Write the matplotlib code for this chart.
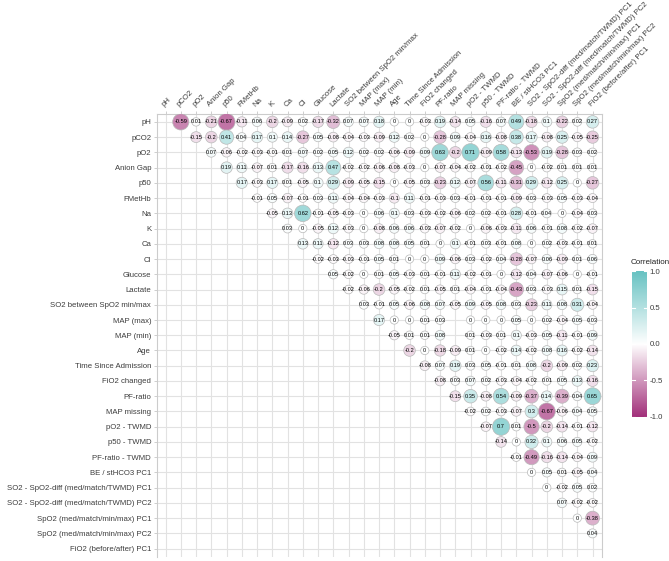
import numpy as np
import matplotlib.pyplot as plt
from matplotlib.colors import LinearSegmentedColormap

plt.rcParams['font.family'] = ['Liberation Sans', 'DejaVu Sans']

labels = ["pH", "pCO2", "pO2", "Anion Gap", "p50", "FMetHb", "Na", "K", "Ca", "Cl",
          "Glucose", "Lactate", "SO2 between SpO2 min/max", "MAP (max)", "MAP (min)",
          "Age", "Time Since Admission", "FiO2 changed", "PF-ratio", "MAP missing",
          "pO2 - TWMD", "p50 - TWMD", "PF-ratio - TWMD", "BE / stHCO3 PC1",
          "SO2 - SpO2-diff (med/match/TWMD) PC1", "SO2 - SpO2-diff (med/match/TWMD) PC2",
          "SpO2 (med/match/min/max) PC1", "SpO2 (med/match/min/max) PC2",
          "FiO2 (before/after) PC1"]

# upper triangle, each row starts right after the diagonal (None = not available)
r_ph = [-0.59, 0.01, -0.21, -0.67, -0.11, 0.06, -0.2, -0.09, 0.02, -0.17, -0.32, 0.07, 0.07, 0.18,
        0, 0, -0.03, 0.19, -0.14, 0.05, -0.16, 0.07, 0.49, -0.18, 0.1, -0.22, 0.02, 0.27]
r_pco2 = [-0.15, -0.2, 0.41, 0.04, 0.17, 0.1, 0.14, -0.27, 0.05, -0.08, -0.04, -0.03, -0.09, 0.12,
          0.02, 0, -0.28, 0.09, -0.04, 0.16, -0.08, 0.38, 0.17, -0.08, 0.25, -0.05, -0.25]
r_po2 = [0.07, -0.06, -0.02, -0.03, -0.01, 0.01, 0.07, 0.02, 0.05, 0.12, 0.02, 0.02, -0.06,
         -0.09, 0.09, 0.63, -0.2, 0.71, -0.09, 0.58, -0.13, -0.53, 0.19, -0.28, 0.03, 0.02]
r_ag = [0.19, 0.11, -0.07, 0.01, -0.17, -0.16, 0.13, 0.47, -0.02, -0.02, -0.06, -0.08, -0.03,
        0, -0.07, -0.04, -0.02, -0.01, -0.02, -0.45, 0, -0.02, 0.01, 0.01, 0.01]
r_p50 = [0.17, -0.03, 0.17, 0.01, -0.05, 0.1, 0.29, -0.09, -0.05, -0.15, 0, -0.05, 0.03, -0.23,
         0.12, -0.07, 0.56, -0.11, -0.31, 0.29, -0.12, 0.25, 0, -0.27]
r_fmethb = [-0.01, 0.05, -0.07, -0.01, 0.03, 0.11, -0.04, -0.04, -0.03, -0.1, 0.11, -0.01, -0.03,
            0.03, -0.01, -0.01, -0.01, -0.09, 0.03, -0.03, 0.05, -0.03, -0.04]
r_na = [-0.05, 0.13, 0.62, -0.01, -0.05, -0.03, 0, 0.06, 0.1, 0.03, -0.03, -0.02, -0.06, 0.02,
        0.02, -0.01, 0.28, -0.01, 0.04, 0, -0.04, 0.03]
r_k = [0.03, 0, -0.05, 0.12, -0.03, 0, -0.08, 0.06, 0.06, -0.03, -0.07, -0.02, 0, -0.06, -0.03,
       -0.11, 0.06, -0.01, 0.08, -0.02, -0.07]
r_ca = [0.13, 0.11, -0.12, 0.03, 0.03, 0.08, 0.08, 0.05, 0.01, 0, 0.1, -0.01, 0.03, -0.01, 0.08,
        0, 0.02, -0.03, -0.01, 0.01]
r_cl = [-0.02, -0.03, -0.03, -0.01, 0.05, 0.01, 0, 0, 0.09, -0.06, 0.03, -0.02, 0.04, -0.28,
        -0.07, 0.06, -0.09, 0.01, 0.06]
r_glucose = [0.05, -0.02, 0, 0.01, 0.05, -0.03, 0.01, -0.01, 0.11, -0.02, -0.01, 0, -0.12, 0.04,
             -0.07, -0.06, 0, -0.01]
r_lactate = [-0.02, -0.06, -0.2, -0.05, -0.02, 0.01, -0.05, 0.01, -0.04, -0.01, -0.04, -0.43,
             0.03, -0.03, 0.15, 0.01, -0.15]
r_so2 = [0.03, -0.01, 0.05, -0.06, 0.08, 0.07, -0.05, 0.09, -0.05, 0.08, 0.03, -0.23, 0.11, 0.08,
         0.31, -0.04]
r_mapmax = [0.17, 0, 0, 0.01, 0.03, None, 0, 0, 0, 0.05, 0, 0.02, -0.04, 0.05, 0.03]
r_mapmin = [-0.05, 0.01, 0.01, 0.08, None, 0.01, -0.03, 0.01, 0.1, -0.03, 0.05, -0.11, -0.01, 0.09]
r_age = [-0.2, 0, -0.18, -0.09, 0.01, 0, -0.02, 0.14, -0.02, 0.08, 0.16, -0.02, -0.14]
r_time = [-0.08, 0.07, 0.19, 0.03, 0.05, -0.01, 0.01, 0.08, -0.2, -0.09, 0.02, 0.23]
r_fio2ch = [-0.08, 0.03, 0.07, 0.02, -0.03, -0.04, -0.02, 0.01, 0.05, 0.13, -0.16]
r_pf = [-0.15, 0.35, -0.08, 0.54, -0.09, -0.37, 0.14, -0.39, 0.04, 0.65]
r_mapmiss = [-0.02, 0.02, -0.03, -0.07, 0.3, -0.67, -0.06, 0.04, 0.05]
r_po2tw = [-0.07, 0.7, 0.01, -0.5, -0.2, -0.14, -0.01, -0.12]
r_p50tw = [-0.14, 0, 0.32, 0.1, 0.06, 0.05, -0.02]
r_pftw = [-0.01, -0.49, -0.16, -0.14, -0.04, 0.09]
r_be = [0, 0.05, 0.01, -0.05, 0.04]
r_so2pc1 = [0, -0.02, 0.05, 0.02]
r_so2pc2 = [0.07, -0.02, -0.02]
r_spo2pc1 = [0, -0.38]
r_spo2pc2 = [0.04]

rows = [r_ph, r_pco2, r_po2, r_ag, r_p50, r_fmethb, r_na, r_k, r_ca, r_cl, r_glucose,
        r_lactate, r_so2, r_mapmax, r_mapmin, r_age, r_time, r_fio2ch, r_pf, r_mapmiss,
        r_po2tw, r_p50tw, r_pftw, r_be, r_so2pc1, r_so2pc2, r_spo2pc1, r_spo2pc2]

n = len(labels)
xs, ys, vals = [], [], []
for i, row in enumerate(rows):
    for k, v in enumerate(row):
        if v is None:
            continue
        xs.append(i + 1 + k)
        ys.append(i)
        vals.append(v)
vals = np.array(vals)

cmap = LinearSegmentedColormap.from_list('corr', ['#A2307A', '#FFFFFF', '#67C2C2'])

fig = plt.figure(figsize=(6.69, 5.61), dpi=100)
ax = fig.add_axes([156.7 / 669, 4 / 561, 445 / 669, 443.5 / 561])

# circle area grows linearly with |r|
d_px = np.sqrt(69 + 328 * np.abs(vals))
sizes = (d_px * 0.72) ** 2
ax.scatter(xs, ys, s=sizes, c=vals, cmap=cmap, vmin=-1, vmax=1,
           edgecolors='#B8B8B8', linewidths=0.5, zorder=3)
for x, y, v in zip(xs, ys, vals):
    txt = f"{v:g}" if v != 0 else "0"
    ax.text(x, y, txt, ha='center', va='center', fontsize=4.1, color='black', zorder=4)

ax.set_xlim(-0.58, n - 1 + 0.6)
ax.set_ylim(n - 1 + 0.55, -0.55)
ax.set_xticks(range(n))
ax.set_yticks(range(n))
ax.xaxis.tick_top()
ax.set_xticklabels(labels, rotation=45, ha='left', va='bottom', rotation_mode='anchor')
ax.set_yticklabels(labels)
ax.tick_params(axis='both', labelsize=5.6, colors='#3C3C3C', length=2.5, width=0.5, pad=1.5)
ax.tick_params(axis='both', color='#BBBBBB')
ax.grid(True, color='#E2E2E2', linewidth=0.8, zorder=0)
ax.set_axisbelow(True)
for sp in ax.spines.values():
    sp.set_color('#CCCCCC')
    sp.set_linewidth(0.8)
ax.spines['bottom'].set_visible(False)

# colour bar legend
cax = fig.add_axes([632 / 669, 1 - 419 / 561, 15 / 669, 150 / 561])
grad = np.linspace(-1, 1, 256).reshape(-1, 1)
cax.imshow(grad, aspect='auto', cmap=cmap, origin='lower', extent=[0, 1, -1, 1])
for t in [-1, -0.5, 0, 0.5, 1]:
    cax.plot([0, 0.2], [t, t], color='white', lw=0.8)
    cax.plot([0.8, 1], [t, t], color='white', lw=0.8)
cax.set_xlim(0, 1)
cax.set_ylim(-1.03, 1.03)
cax.set_xticks([])
cax.yaxis.tick_right()
cax.set_yticks([-1, -0.5, 0, 0.5, 1])
cax.set_yticklabels(["-1.0", "-0.5", "0.0", "0.5", "1.0"])
cax.tick_params(axis='y', length=0, labelsize=5.6, colors='#3C3C3C', pad=2)
for sp in cax.spines.values():
    sp.set_visible(False)
fig.text(631 / 669, 1 - 262 / 561, "Correlation", fontsize=5.8, color='#222222',
         ha='left', va='center')

fig.savefig("out.png", dpi=100)
